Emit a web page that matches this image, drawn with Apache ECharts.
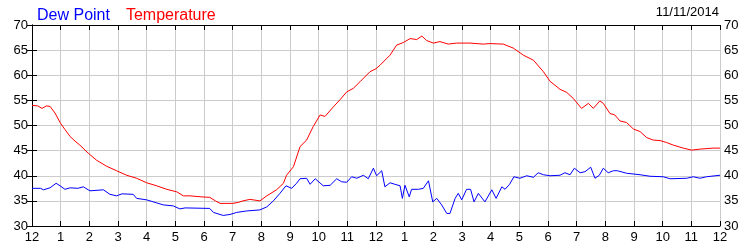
<!DOCTYPE html>
<html><head><meta charset="utf-8">
<script src="https://cdn.jsdelivr.net/npm/echarts@6/dist/echarts.min.js"></script>
<style>html,body{margin:0;padding:0;background:#fff}#c{width:750px;height:250px}</style>
</head><body><div id="c"></div>
<script>
const tempHours = [0,0.2,0.35,0.5,0.63,0.8,1.0,1.15,1.33,1.5,1.67,1.96,2.25,2.6,2.95,3.3,3.65,4.0,4.35,4.7,5.05,5.28,5.51,5.9,6.2,6.4,6.56,7.0,7.2,7.36,7.6,7.95,8.19,8.53,8.77,8.88,9.12,9.35,9.58,9.81,10.05,10.22,10.51,10.74,10.98,11.21,11.44,11.79,12.0,12.14,12.49,12.72,12.95,13.19,13.42,13.6,13.77,14.0,14.23,14.52,14.81,15.28,15.74,15.98,16.44,16.79,17.14,17.49,17.84,18.07,18.42,18.65,18.88,19.17,19.41,19.58,19.81,19.93,20.16,20.33,20.51,20.74,20.98,21.21,21.44,21.67,21.91,22.14,22.37,22.72,23.01,23.3,23.76,24];
const tempValues = [54.0,53.9,53.4,53.9,53.8,52.5,50.4,49.2,47.8,46.9,46.1,44.5,43.1,41.9,41.0,40.1,39.5,38.6,38.0,37.3,36.8,36.0,36.0,35.8,35.7,35.0,34.5,34.5,34.7,35.0,35.3,35.0,36.0,37.2,38.5,40.1,41.8,45.8,47.1,49.8,52.1,51.8,53.7,55.1,56.7,57.4,58.7,60.7,61.3,62.0,64.0,66.0,66.5,67.3,67.1,67.8,66.9,66.4,66.7,66.2,66.4,66.4,66.2,66.3,66.2,65.4,64.0,63.0,60.7,58.8,57.2,56.6,55.4,53.4,54.4,53.4,54.9,54.4,52.4,52.1,50.9,50.6,49.3,48.8,47.6,47.1,47.0,46.6,46.1,45.5,45.1,45.3,45.5,45.5];
const dewHours = [0,0.3,0.4,0.63,0.84,0.98,1.15,1.33,1.6,1.79,2.02,2.49,2.72,2.95,3.14,3.53,3.65,4.0,4.35,4.58,4.93,5.16,5.22,5.34,6.2,6.33,6.67,6.91,7.14,7.49,7.95,8.19,8.42,8.65,8.86,9.06,9.23,9.35,9.58,9.7,9.88,10.16,10.4,10.63,10.8,10.98,11.15,11.33,11.56,11.73,11.91,12.02,12.2,12.31,12.49,12.66,12.84,12.92,13.01,13.16,13.24,13.48,13.65,13.83,13.98,14.12,14.29,14.47,14.58,14.76,14.87,14.99,15.16,15.3,15.42,15.57,15.8,16.04,16.19,16.39,16.5,16.66,16.81,17.02,17.26,17.49,17.66,17.84,18.07,18.13,18.42,18.59,18.77,18.92,19.12,19.29,19.49,19.64,19.79,19.93,20.1,20.28,20.42,20.74,21.21,21.56,22.02,22.26,22.84,23.07,23.3,23.53,24];
const dewValues = [37.5,37.5,37.2,37.6,38.5,38.0,37.3,37.6,37.5,37.8,37.0,37.2,36.3,36.0,36.4,36.3,35.5,35.2,34.6,34.2,34.0,33.4,33.1,33.6,33.5,32.7,32.1,32.3,32.7,33.0,33.2,33.8,35.0,36.5,38.0,37.5,38.5,39.4,39.5,38.3,39.4,38.0,38.1,39.4,38.8,38.7,39.8,39.5,40.1,39.4,41.5,40.0,41.0,37.8,38.6,38.3,38.0,35.5,38.1,35.8,37.3,37.3,37.5,39.0,34.8,35.5,34.2,32.5,32.5,35.5,36.5,35.2,37.3,37.3,34.8,36.5,34.8,37.2,35.5,37.8,37.3,38.3,39.8,39.5,40.0,39.7,40.6,40.2,40.0,39.7,40.1,40.6,40.2,41.5,40.6,40.8,41.7,39.5,40.1,41.5,40.6,41.0,41.0,40.5,40.2,39.9,39.8,39.4,39.5,39.8,39.5,39.8,40.1];
const xTickLabels = ['12','1','2','3','4','5','6','7','8','9','10','11','12','1','2','3','4','5','6','7','8','9','10','11','12'];
const yMin = 30, yMax = 70, yStep = 5;
const dateText = '11/11/2014';

const pairs = (xs, ys) => xs.map((x, i) => [x, ys[i]]);
const font = 'Liberation Sans, Arial, sans-serif';
const chart = echarts.init(document.getElementById('c'), null, {renderer: 'canvas'});
const xBase = {
  type: 'value', min: 0, max: 24, interval: 1,
  axisLine: {show: true, onZero: false, lineStyle: {color: '#000', width: 1}},
  axisTick: {show: true, inside: true, length: 5, lineStyle: {color: '#000'}},
  splitLine: {show: true, lineStyle: {color: '#cccccc', width: 1}}
};
const yBase = {
  type: 'value', min: yMin, max: yMax, interval: yStep,
  axisLine: {show: true, lineStyle: {color: '#000', width: 1}},
  axisTick: {show: true, inside: true, length: 5, lineStyle: {color: '#000'}},
  splitLine: {show: true, lineStyle: {color: '#cccccc', width: 1}},
  axisLabel: {color: '#000', fontSize: 13, fontFamily: font, margin: 4}
};
chart.setOption({
  animation: false,
  backgroundColor: '#fff',
  title: {
    text: '{a|Dew Point}{b|Temperature}', left: 32, top: 3,
    textStyle: {fontWeight: 'normal', rich: {
      a: {color: '#0000ff', fontSize: 16, fontWeight: 'normal', fontFamily: font, padding: [0, 16, 0, 0]},
      b: {color: '#ff0000', fontSize: 16, fontWeight: 'normal', fontFamily: font}
    }}
  },
  graphic: [{type: 'text', right: 31, top: 6, style: {text: dateText, fill: '#000', fontSize: 13, fontFamily: font}}],
  grid: {left: 32, right: 30, top: 25, bottom: 24, containLabel: false},
  xAxis: [
    Object.assign({}, xBase, {position: 'bottom', axisLabel: {color: '#000', fontSize: 13, fontFamily: font, margin: 5, showMinLabel: true, showMaxLabel: true, formatter: v => xTickLabels[Math.round(v)]}}),
    Object.assign({}, xBase, {position: 'top', axisLabel: {show: false}, splitLine: {show: false}})
  ],
  yAxis: [
    Object.assign({}, yBase, {position: 'left'}),
    Object.assign({}, yBase, {position: 'right', splitLine: {show: false}})
  ],
  series: [
    {name: 'Dew Point', type: 'line', data: pairs(dewHours, dewValues), showSymbol: false, lineStyle: {color: '#0000ff', width: 1}, itemStyle: {color: '#0000ff'}},
    {name: 'Temperature', type: 'line', data: pairs(tempHours, tempValues), showSymbol: false, lineStyle: {color: '#ff0000', width: 1}, itemStyle: {color: '#ff0000'}}
  ]
});
</script></body></html>
